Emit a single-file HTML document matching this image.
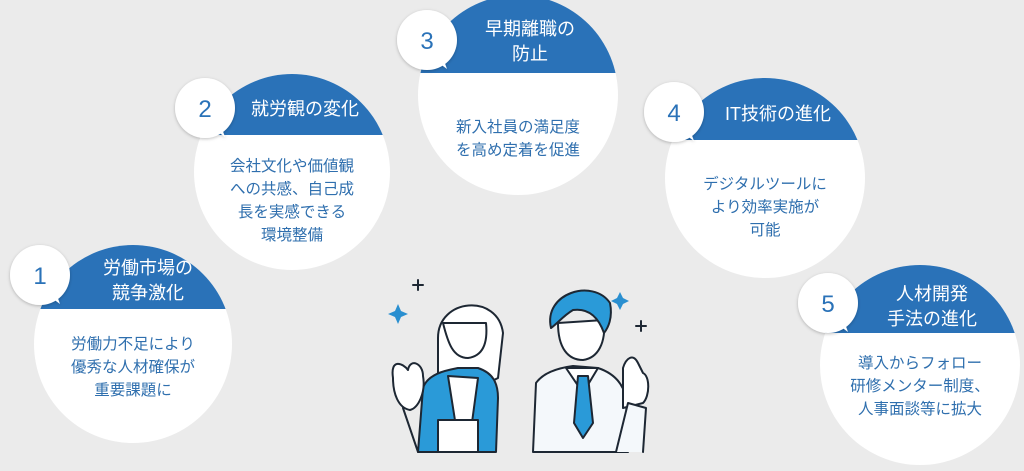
<!DOCTYPE html>
<html><head><meta charset="utf-8"><style>
html,body{margin:0;padding:0;background:#ebebeb;}
svg{display:block}
text{font-family:"Liberation Sans","Noto Sans CJK JP",sans-serif;}
.t{fill:#fff;font-size:18px;text-anchor:middle}
.b{fill:#2f6fae;font-size:15.5px;text-anchor:middle}
.n{fill:#2a72b8;font-size:24px;text-anchor:middle}
</style></head><body>
<svg width="1024" height="471" viewBox="0 0 1024 471" xmlns="http://www.w3.org/2000/svg">
<defs>
<filter id="sh" x="-30%" y="-30%" width="160%" height="160%"><feDropShadow dx="0" dy="1" stdDeviation="1.5" flood-color="#000" flood-opacity="0.25"/></filter>
<clipPath id="c1"><circle cx="133" cy="344" r="99"/></clipPath>
<clipPath id="c2"><circle cx="292" cy="172" r="98"/></clipPath>
<clipPath id="c3"><circle cx="518" cy="95" r="100"/></clipPath>
<clipPath id="c4"><circle cx="765" cy="178" r="100"/></clipPath>
<clipPath id="c5"><circle cx="920" cy="365" r="100"/></clipPath>
</defs>
<rect width="1024" height="471" fill="#ebebeb"/>

<!-- 1 -->
<circle cx="133" cy="344" r="99" fill="#fff"/>
<rect x="0" y="200" width="300" height="109" fill="#2a72b8" clip-path="url(#c1)"/>
<text class="t" x="148" y="274">労働市場の</text><text class="t" x="148" y="299">競争激化</text>
<text class="b" x="133" y="349">労働力不足により</text><text class="b" x="133" y="372">優秀な人材確保が</text><text class="b" x="133" y="395">重要課題に</text>
<g filter="url(#sh)"><circle cx="40" cy="275" r="30" fill="#fff"/><path d="M52 298 L60 304 L56 293Z" fill="#fff"/></g>
<text class="n" x="40" y="284">1</text>

<!-- 2 -->
<circle cx="292" cy="172" r="98" fill="#fff"/>
<rect x="150" y="50" width="300" height="85" fill="#2a72b8" clip-path="url(#c2)"/>
<text class="t" x="305" y="115">就労観の変化</text>
<text class="b" x="292" y="171">会社文化や価値観</text><text class="b" x="292" y="194">への共感、自己成</text><text class="b" x="292" y="217">長を実感できる</text><text class="b" x="292" y="240">環境整備</text>
<g filter="url(#sh)"><circle cx="205" cy="108" r="30" fill="#fff"/><path d="M217 131 L225 137 L221 126Z" fill="#fff"/></g>
<text class="n" x="205" y="117">2</text>

<!-- 3 -->
<circle cx="518" cy="95" r="100" fill="#fff"/>
<rect x="400" y="-20" width="300" height="93" fill="#2a72b8" clip-path="url(#c3)"/>
<text class="t" x="530" y="35">早期離職の</text><text class="t" x="530" y="60">防止</text>
<text class="b" x="518" y="132">新入社員の満足度</text><text class="b" x="518" y="155">を高め定着を促進</text>
<g filter="url(#sh)"><circle cx="427" cy="40" r="30" fill="#fff"/><path d="M439 63 L447 69 L443 58Z" fill="#fff"/></g>
<text class="n" x="427" y="49">3</text>

<!-- 4 -->
<circle cx="765" cy="178" r="100" fill="#fff"/>
<rect x="640" y="50" width="300" height="90" fill="#2a72b8" clip-path="url(#c4)"/>
<text class="t" x="778" y="120">IT技術の進化</text>
<text class="b" x="765" y="189">デジタルツールに</text><text class="b" x="765" y="212">より効率実施が</text><text class="b" x="765" y="235">可能</text>
<g filter="url(#sh)"><circle cx="674" cy="112" r="30" fill="#fff"/><path d="M686 135 L694 141 L690 130Z" fill="#fff"/></g>
<text class="n" x="674" y="121">4</text>

<!-- 5 -->
<circle cx="920" cy="365" r="100" fill="#fff"/>
<rect x="800" y="250" width="300" height="83" fill="#2a72b8" clip-path="url(#c5)"/>
<text class="t" x="932" y="300">人材開発</text><text class="t" x="932" y="325">手法の進化</text>
<text class="b" x="920" y="368">導入からフォロー</text><text class="b" x="920" y="391">研修メンター制度、</text><text class="b" x="920" y="414">人事面談等に拡大</text>
<g filter="url(#sh)"><circle cx="828" cy="303" r="30" fill="#fff"/><path d="M840 326 L848 332 L844 321Z" fill="#fff"/></g>
<text class="n" x="828" y="312">5</text>

<!-- illustration -->
<g stroke="#1d2733" stroke-width="2" stroke-linejoin="round" stroke-linecap="round">
<path d="M398 304 l3 7 l7 3 l-7 3 l-3 7 l-3 -7 l-7 -3 l7 -3z" fill="#2a8fd0" stroke="none"/>
<path d="M620 292 l3 6 l6 3 l-6 3 l-3 6 l-3 -6 l-6 -3 l6 -3z" fill="#2a8fd0" stroke="none"/>
<path d="M418 280 v10 M413 285 h10 M641 321 v10 M636 326 h10" fill="none"/>
<path d="M438 338 C438 298 498 293 503 333 L498 378 L468 393 L438 388 Z" fill="#fff"/>
<path d="M443 323 C448 343 453 358 468 358 C483 356 488 343 486 323 Z" fill="#fff"/>
<path d="M418 452 L423 388 C428 373 448 370 458 368 L478 368 C493 373 498 383 498 398 L496 452 Z" fill="#2a9ad8"/>
<path d="M448 376 L460 452 L468 452 L478 378 Z" fill="#fff"/>
<rect x="438" y="420" width="40" height="32" fill="#fff"/>
<path d="M393 378 C390 358 403 363 408 370 C410 358 423 363 423 376 C426 393 418 408 410 410 C398 408 393 393 393 378Z" fill="#fff"/>
<path d="M403 408 L418 452" fill="none"/>
<path d="M533 452 L536 383 C543 373 558 368 573 366 L598 368 C613 373 623 383 626 398 L628 452 Z" fill="#f4f8fb"/>
<path d="M566 368 L583 393 L598 368 Z" fill="#fff"/>
<path d="M578 376 L588 376 L593 423 L583 438 L574 423 Z" fill="#2a9ad8"/>
<path d="M558 323 C558 348 568 360 583 360 C598 358 606 343 604 320 Z" fill="#fff"/>
<path d="M551 328 C543 293 593 278 610 303 C613 318 608 328 604 333 C598 316 588 308 573 310 C563 316 558 323 551 328Z" fill="#2a9ad8"/>
<path d="M623 408 L623 368 C626 358 633 353 638 363 L643 373 C650 376 650 396 643 403 Z" fill="#fff"/>
<path d="M616 452 L628 403 L646 408 L643 452" fill="#f4f8fb"/>
</g>
</svg>
</body></html>
